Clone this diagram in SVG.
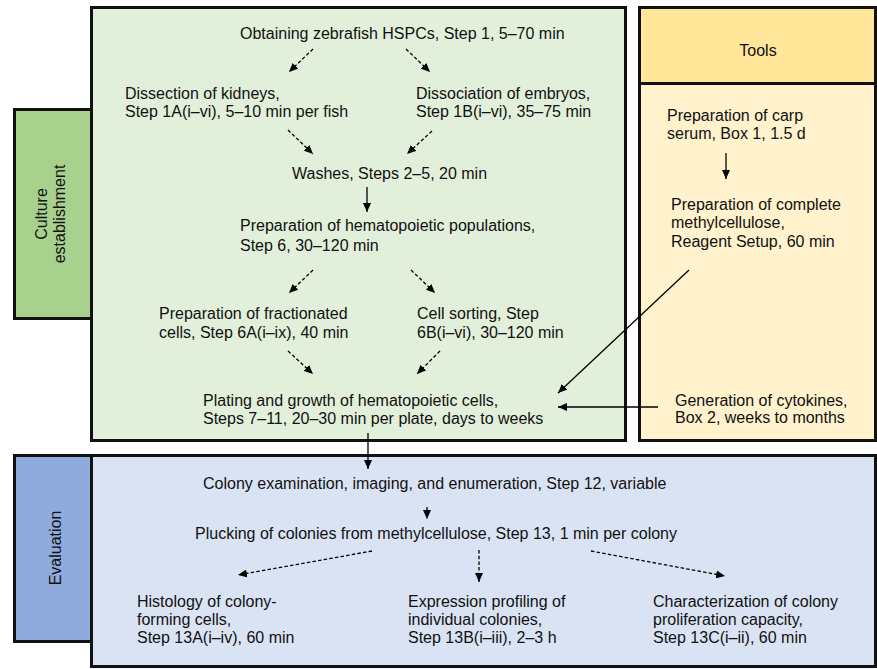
<svg xmlns="http://www.w3.org/2000/svg" width="877" height="669" viewBox="0 0 877 669">
<defs>
<marker id="ah" markerWidth="10" markerHeight="8" refX="9" refY="4" orient="auto" markerUnits="userSpaceOnUse">
<path d="M0,0 L9,4 L0,8 Z" fill="#000"/>
</marker>
<style>
.box{stroke:#111;stroke-width:3}
.t{font-family:"Liberation Sans",Arial,sans-serif;font-size:16px;fill:#111}
.c{text-anchor:middle}
.s{stroke:#000;stroke-width:1.3;fill:none}
.d{stroke:#000;stroke-width:1.3;fill:none;stroke-dasharray:3.5 2.2}
</style>
</defs>
<rect width="877" height="669" fill="#fff"/>

<g id="culture-label">
<rect class="box" x="14.5" y="109.5" width="77" height="209" fill="#a9d18e"/>
<text class="t c" transform="translate(46.5,214) rotate(-90)">Culture</text>
<text class="t c" transform="translate(64.5,214) rotate(-90)">establishment</text>
</g>

<g id="culture-panel">
<rect class="box" x="91.5" y="7.5" width="534" height="433" fill="#e2efda"/>
</g>

<g id="tools-panel">
<rect class="box" x="639.5" y="7.5" width="236" height="433" fill="#fff2cc"/>
<rect class="box" x="639.5" y="7.5" width="236" height="76" fill="#ffe699"/>
<text class="t c" x="758" y="55.5">Tools</text>
</g>

<g id="evaluation-label">
<rect class="box" x="14.5" y="455.5" width="77" height="186" fill="#8faadc"/>
<text class="t c" transform="translate(60.5,548) rotate(-90)">Evaluation</text>
</g>

<g id="evaluation-panel">
<rect class="box" x="91.5" y="455.5" width="784" height="211" fill="#dae3f3"/>
</g>

<g id="n-obtain"><text class="t" x="240" y="38.5">Obtaining zebrafish HSPCs, Step 1, 5–70 min</text></g>
<g id="n-kidneys"><text class="t" x="125" y="98.5">Dissection of kidneys,</text><text class="t" x="125" y="117">Step 1A(i–vi), 5–10 min per fish</text></g>
<g id="n-embryos"><text class="t" x="416" y="98.5">Dissociation of embryos,</text><text class="t" x="416" y="117">Step 1B(i–vi), 35–75 min</text></g>
<g id="n-washes"><text class="t" x="292" y="178.5">Washes, Steps 2–5, 20 min</text></g>
<g id="n-populations"><text class="t" x="240" y="230.5">Preparation of hematopoietic populations,</text><text class="t" x="240" y="251">Step 6, 30–120 min</text></g>
<g id="n-fractionated"><text class="t" x="159" y="318.5">Preparation of fractionated</text><text class="t" x="159" y="337.5">cells, Step 6A(i–ix), 40 min</text></g>
<g id="n-sorting"><text class="t" x="417" y="318.5">Cell sorting, Step</text><text class="t" x="417" y="337.5">6B(i–vi), 30–120 min</text></g>
<g id="n-plating"><text class="t" x="203" y="405.5">Plating and growth of hematopoietic cells,</text><text class="t" x="203" y="424">Steps 7–11, 20–30 min per plate, days to weeks</text></g>

<g id="n-carp"><text class="t" x="667" y="120.5">Preparation of carp</text><text class="t" x="667" y="138.5">serum, Box 1, 1.5 d</text></g>
<g id="n-methyl"><text class="t" x="671" y="209.5">Preparation of complete</text><text class="t" x="671" y="228">methylcellulose,</text><text class="t" x="671" y="247">Reagent Setup, 60 min</text></g>
<g id="n-cytokines"><text class="t" x="675" y="405.5">Generation of cytokines,</text><text class="t" x="675" y="423">Box 2, weeks to months</text></g>

<g id="n-colony"><text class="t" x="203" y="488.5">Colony examination, imaging, and enumeration, Step 12, variable</text></g>
<g id="n-plucking"><text class="t" x="195" y="538.5">Plucking of colonies from methylcellulose, Step 13, 1 min per colony</text></g>
<g id="n-histology"><text class="t" x="137" y="606.5">Histology of colony-</text><text class="t" x="137" y="624.5">forming cells,</text><text class="t" x="137" y="642.5">Step 13A(i–iv), 60 min</text></g>
<g id="n-expression"><text class="t" x="408" y="606.5">Expression profiling of</text><text class="t" x="408" y="624.5">individual colonies,</text><text class="t" x="408" y="642.5">Step 13B(i–iii), 2–3 h</text></g>
<g id="n-character"><text class="t" x="653" y="606.5">Characterization of colony</text><text class="t" x="653" y="624.5">proliferation capacity,</text><text class="t" x="653" y="642.5">Step 13C(i–ii), 60 min</text></g>

<g id="connectors">
<line class="d" x1="313" y1="49" x2="289" y2="72" marker-end="url(#ah)"/>
<line class="d" x1="406" y1="49" x2="430" y2="72" marker-end="url(#ah)"/>
<line class="d" x1="288" y1="130" x2="313" y2="154" marker-end="url(#ah)"/>
<line class="d" x1="432" y1="131" x2="407" y2="154" marker-end="url(#ah)"/>
<line class="s" x1="367" y1="187" x2="367" y2="212" marker-end="url(#ah)"/>
<line class="d" x1="313" y1="270" x2="289" y2="293" marker-end="url(#ah)"/>
<line class="d" x1="411" y1="270" x2="435" y2="293" marker-end="url(#ah)"/>
<line class="d" x1="288" y1="351" x2="313" y2="374" marker-end="url(#ah)"/>
<line class="d" x1="440" y1="351" x2="417" y2="374" marker-end="url(#ah)"/>
<line class="s" x1="726" y1="153" x2="726" y2="179" marker-end="url(#ah)"/>
<line class="s" x1="689" y1="270" x2="558" y2="393" marker-end="url(#ah)"/>
<line class="s" x1="658" y1="407" x2="558" y2="407" marker-end="url(#ah)"/>
<line class="s" x1="368" y1="433" x2="368" y2="469" marker-end="url(#ah)"/>
<line class="d" x1="427" y1="507" x2="427" y2="519" marker-end="url(#ah)"/>
<line class="d" x1="372" y1="551" x2="238" y2="575" marker-end="url(#ah)"/>
<line class="d" x1="479" y1="550" x2="479" y2="582" marker-end="url(#ah)"/>
<line class="d" x1="591" y1="551" x2="725" y2="576" marker-end="url(#ah)"/>
</g>
</svg>
